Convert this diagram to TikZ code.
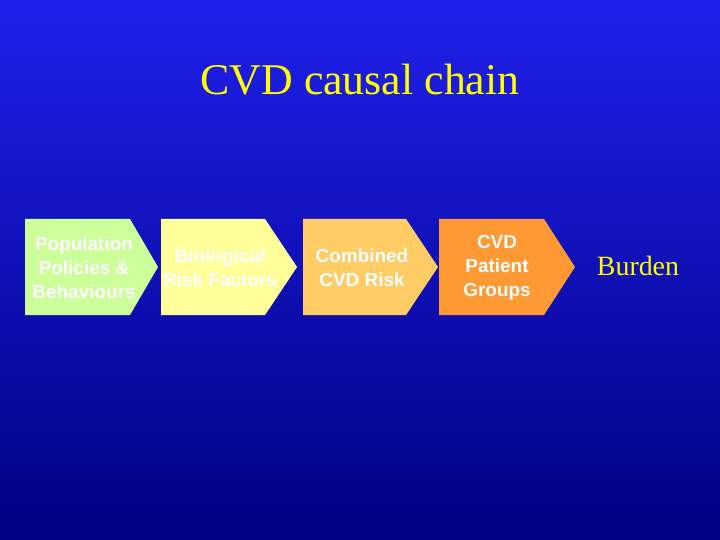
\documentclass[tikz,border=0pt]{standalone}
\usepackage{fontspec}
\setmainfont{Liberation Serif}
\newfontfamily\arial{Liberation Sans}
\definecolor{bgtop}{RGB}{32,32,235}
\definecolor{bgbot}{RGB}{0,0,130}
\definecolor{c1}{RGB}{204,255,153}
\definecolor{c2}{RGB}{255,255,153}
\definecolor{c3}{RGB}{255,204,102}
\definecolor{c4}{RGB}{255,153,51}
\definecolor{ttl}{RGB}{255,255,0}
\begin{document}
\begin{tikzpicture}[x=1bp,y=-1bp,
  lbl/.style={font=\arial\bfseries\fontsize{19}{24}\selectfont,text=white,align=center,inner sep=0pt}]
\shade[top color=bgtop,bottom color=bgbot] (0,0) rectangle (720,540);
\useasboundingbox (0,0) rectangle (720,540);
\node[font=\fontsize{44}{50}\selectfont,text=ttl] (title) at (360,80) {CVD causal chain};
\fill[c1] (25,219) -- (130,219) -- (158,267) -- (130,315) -- (25,315) -- cycle;
\fill[c2] (161,219) -- (265,219) -- (297,267) -- (265,315) -- (161,315) -- cycle;
\fill[c3] (303,219) -- (406,219) -- (438,267) -- (406,315) -- (303,315) -- cycle;
\fill[c4] (439,219) -- (544,219) -- (575,267) -- (544,315) -- (439,315) -- cycle;
\node[lbl] (a) at (84,268) {Population\\Policies \&\\Behaviours};
\node[lbl] (b) at (220,268) {Biological\\Risk Factors};
\node[lbl] (c) at (362,268) {Combined\\CVD Risk};
\node[lbl] (d) at (497,268) {CVD\\Patient\\Groups};
\node[font=\fontsize{28}{32}\selectfont,text=ttl] (e) at (638,266) {Burden};
\end{tikzpicture}
\end{document}
